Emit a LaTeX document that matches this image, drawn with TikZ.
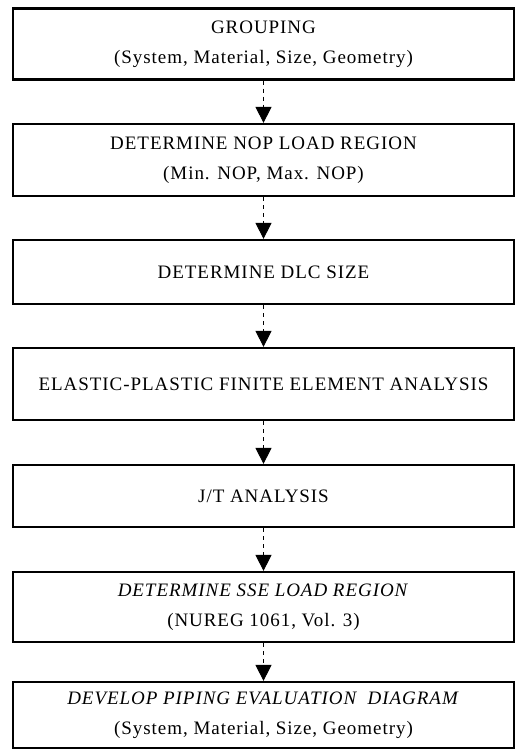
\documentclass[tikz,border=0pt]{standalone}
\usepackage{fontspec}
\setmainfont[LetterSpace=5]{Liberation Serif}
\usetikzlibrary{arrows.meta}

\begin{document}
\begin{tikzpicture}[x=1pt,y=1pt]
	% styles
	\tikzstyle{stage} += [draw,line width=2.2pt,minimum width=501pt,align=center,
		inner sep=0pt,font=\fontsize{19}{30}\selectfont]
	\tikzstyle{flow} += [line width=0.9pt,dash pattern=on 4pt off 4pt,
		-{Triangle[length=16pt,width=16pt]}]
	
	% bounding box
	\useasboundingbox (0,0) rectangle (520,-751);
	
	% stages
	\node[stage,minimum height=71pt] (group) at (263.5,-44)
		{GROUPING\\(System, Material, Size, Geometry)};
	\node[stage,minimum height=72pt] (nop) at (263.5,-160)
		{DETERMINE NOP LOAD REGION\\(Min. NOP, Max. NOP)};
	\node[stage,minimum height=64pt] (dlc) at (263.5,-272)
		{DETERMINE DLC SIZE};
	\node[stage,minimum height=72pt] (fea) at (263.5,-384)
		{ELASTIC-PLASTIC FINITE ELEMENT ANALYSIS};
	\node[stage,minimum height=62pt] (jt) at (263.5,-496)
		{J/T ANALYSIS};
	\node[stage,minimum height=70pt] (sse) at (263.5,-607)
		{\textit{DETERMINE SSE LOAD REGION}\\(NUREG 1061, Vol. 3)};
	\node[stage,minimum height=66pt] (ped) at (263.5,-715)
		{\textit{DEVELOP PIPING EVALUATION\ \ DIAGRAM}\\(System, Material, Size, Geometry)};
	
	% arrows
	\foreach \a/\b in {group/nop,nop/dlc,dlc/fea,fea/jt,jt/sse,sse/ped}
	{
		\draw[flow] (\a.south) -- (\b.north);
	}
\end{tikzpicture}
\end{document}
